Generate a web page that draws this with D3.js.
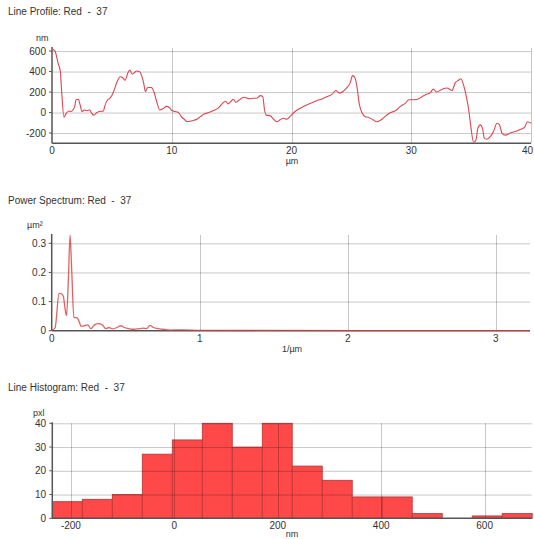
<!DOCTYPE html>
<html>
<head>
<meta charset="utf-8">
<script src="https://cdnjs.cloudflare.com/ajax/libs/d3/7.8.5/d3.min.js"></script>
<style>
  body { margin: 0; background: #fff; }
  svg { display: block; font-family: "Liberation Sans", Arial, sans-serif; }
  text { white-space: pre; }
</style>
</head>
<body>
<svg id="chart" width="534" height="539"></svg>
<script>
// line profile, x in um, y in nm
const profileUm = [0, 0.25, 0.5, 0.7, 0.8, 1.0, 1.15, 1.4, 1.6, 1.75, 1.9, 2.0, 2.2, 2.35, 2.5, 2.7, 2.9, 3.15, 3.3, 3.5, 3.7, 3.95,
  4.3, 4.4, 4.65, 4.85, 5.1, 5.4, 5.7, 5.9, 6.1, 6.35, 6.5, 6.7, 6.85, 7.05, 7.3, 7.5, 7.65, 7.8, 8.0, 8.3, 8.5, 8.7, 9.0,
  9.3, 9.55, 9.8, 10.0, 10.3, 10.6, 10.8, 11.05, 11.3, 11.7, 12.1, 12.4, 12.7, 13.1, 13.5, 13.9, 14.2, 14.5, 14.7, 14.95,
  15.15, 15.35, 15.6, 16.0, 16.3, 16.5, 16.8, 17.1, 17.4, 17.6, 17.75, 17.9, 18.2, 18.5, 18.8, 19.05, 19.35, 19.6, 19.9,
  20.3, 20.6, 21.0, 21.4, 21.8, 22.2, 22.5, 22.95, 23.4, 23.7, 24.0, 24.3, 24.6, 24.9, 25.1, 25.3, 25.5, 25.65, 25.9,
  26.15, 26.4, 26.8, 27.1, 27.5, 27.8, 28.2, 28.7, 29.1, 29.5, 29.8, 30.05, 30.5, 30.9, 31.3, 31.6, 31.85, 32.1, 32.55,
  32.97, 33.4, 33.67, 33.95, 34.14, 34.4, 34.6, 34.8, 34.98, 35.2, 35.4, 35.56, 35.76, 35.95, 36.1, 36.3, 36.6, 36.87,
  37.15, 37.37, 37.57, 37.85, 38.26, 38.68, 39.1, 39.46, 39.7, 40.0];
const profileNm = [620, 600, 485, 400, 220, -45, -15, 15, 10, 25, 60, 125, 130, 75, 10, 25, 20, 25, -5, -25, -5, 10,
  15, 60, 125, 140, 190, 290, 350, 340, 315, 390, 415, 375, 385, 405, 400, 355, 290, 205, 245, 245, 205, 125, 25,
  40, 60, 50, 20, 10, -5, -40, -65, -90, -80, -65, -40, -15, 0, 20, 45, 85, 110, 85, 110,
  130, 100, 120, 150, 140, 135, 140, 140, 165, 155, 25, -25, -30, -65, -90, -70, -55, -65, -35,
  10, 35, 60, 80, 100, 120, 130, 155, 180, 215, 190, 205, 240, 290, 360, 340, 225, 90, -5,
  -40, -45, -70, -90, -70, -40, -5, 20, 60, 90, 125, 125, 130, 155, 180, 195, 230, 200, 225,
  240, 215, 290, 315, 330, 255, 155, 25, -140, -290, -270, -155, -120, -155, -250, -260, -235, -185,
  -105, -120, -200, -220, -200, -185, -165, -145, -90, -105];

// power spectrum, x in 1/um, y in um^2
const spectrumFreq = [0, 0.023, 0.05, 0.068, 0.079, 0.09, 0.1, 0.113, 0.124, 0.135, 0.15, 0.17, 0.18, 0.2, 0.22, 0.243,
  0.265, 0.29, 0.315, 0.342, 0.365, 0.387, 0.41, 0.44, 0.468, 0.49, 0.518, 0.545, 0.574, 0.597, 0.62, 0.64, 0.664,
  0.687, 0.72, 0.755, 0.8, 0.88, 1.0, 3.232];
const spectrumPow = [0, 0.01, 0.128, 0.126, 0.117, 0.077, 0.052, 0.18, 0.328, 0.21, 0.045, 0.045, 0.038, 0.015, 0.017, 0.02,
  0.007, 0.02, 0.024, 0.02, 0.007, 0.011, 0.006, 0.011, 0.017, 0.011, 0.007, 0.005, 0.006, 0.007, 0.009, 0.007, 0.018,
  0.011, 0.007, 0.005, 0.002, 0.003, 0.001, 0];

// line histogram, bins in nm, counts in pxl
const histEdges = [-236, -178, -120, -62, -4, 54, 112, 170, 228, 286, 344, 402, 460, 518, 576, 634, 692];
const histCounts = [7, 8, 10, 27, 33, 40, 30, 40, 22, 16, 9, 9, 2, 0, 1, 2];

const profileXTicks = [0, 10, 20, 30, 40], profileYTicks = [-200, 0, 200, 400, 600];
const spectrumXTicks = [0, 1, 2, 3], spectrumYTicks = [0, 0.1, 0.2, 0.3];
const histXTicks = [-200, 0, 200, 400, 600], histYTicks = [0, 10, 20, 30, 40];

const svg = d3.select('#chart');

function panel(o) {
  let x = d3.scaleLinear().domain(o.xDomain).range([o.left, o.right]),
      y = d3.scaleLinear().domain(o.yDomain).range([o.bottom, o.top]),
      g = svg.append('g');

  g.append('text').attr('x', 8).attr('y', o.titleY)
    .attr('font-size', 10).attr('fill', '#333').text(o.title);

  let marks = g.append('g');
  o.draw(marks, x, y);

  // grid
  g.append('g').selectAll('line.h').data(o.yTicks.filter(d => d !== o.yDomain[0]))
    .enter().append('line')
    .attr('x1', o.left).attr('x2', o.right)
    .attr('y1', d => y(d) + 0.5).attr('y2', d => y(d) + 0.5)
    .attr('stroke', '#000').attr('stroke-opacity', 0.22);
  g.append('g').selectAll('line.v').data(o.xTicks.filter(d => x(d) > o.left + 2))
    .enter().append('line')
    .attr('x1', d => Math.round(x(d)) + 0.5).attr('x2', d => Math.round(x(d)) + 0.5)
    .attr('y1', o.top).attr('y2', o.bottom)
    .attr('stroke', '#000').attr('stroke-opacity', 0.22);

  // axes
  g.append('line').attr('x1', o.left).attr('x2', o.left).attr('y1', o.top - 1).attr('y2', o.bottom)
    .attr('stroke', '#555').attr('stroke-width', 1.5);
  g.append('line').attr('x1', o.left).attr('x2', o.right).attr('y1', o.bottom).attr('y2', o.bottom)
    .attr('stroke', '#555').attr('stroke-width', 1.5);
  g.append('g').selectAll('line').data(o.yTicks).enter().append('line')
    .attr('x1', o.left - 3).attr('x2', o.left).attr('y1', d => y(d)).attr('y2', d => y(d))
    .attr('stroke', '#555');

  if (o.over) o.over(g, x, y);

  g.append('g').selectAll('text').data(o.yTicks).enter().append('text')
    .attr('x', 46).attr('y', d => y(d)).attr('dy', '0.35em')
    .attr('text-anchor', 'end').attr('font-size', 10).attr('fill', '#333')
    .text(d => o.yFormat ? o.yFormat(d) : d);
  g.append('g').selectAll('text').data(o.xTicks).enter().append('text')
    .attr('x', d => Math.min(x(d), 527)).attr('y', o.bottom + 11)
    .attr('text-anchor', d => x(d) > 527 ? 'end' : 'middle')
    .attr('dx', d => x(d) > 527 ? 6 : 0)
    .attr('font-size', 10).attr('fill', '#333')
    .text(d => d);

  g.append('text').attr('x', o.yUnitX).attr('y', o.top - 7)
    .attr('font-size', 9).attr('fill', '#333').text(o.yUnit);
  g.append('text').attr('x', 292).attr('y', Math.min(o.bottom + 21, 537))
    .attr('text-anchor', 'middle').attr('font-size', 9).attr('fill', '#333').text(o.xUnit);
}

panel({
  title: 'Line Profile: Red  -  37', titleY: 15,
  left: 52, right: 531, top: 48, bottom: 143.3,
  xDomain: [0, 40], yDomain: [-300, 630],
  xTicks: profileXTicks, yTicks: profileYTicks,
  yUnit: 'nm', yUnitX: 36, xUnit: 'µm',
  draw: () => {},
  over: (g, x, y) => {
    g.append('path')
      .datum(d3.zip(profileUm, profileNm))
      .attr('fill', 'none').attr('stroke', '#dc4652').attr('stroke-width', 1.1)
      .attr('d', d3.line().x(d => x(d[0])).y(d => y(d[1])).curve(d3.curveMonotoneX));
  }
});

panel({
  title: 'Power Spectrum: Red  -  37', titleY: 204,
  left: 51.7, right: 530, top: 235, bottom: 330.7,
  xDomain: [0, 3.232], yDomain: [0, 0.3285],
  xTicks: spectrumXTicks, yTicks: spectrumYTicks,
  yFormat: d => d === 0 ? '0' : d3.format('.1f')(d),
  yUnit: 'µm²', yUnitX: 27, xUnit: '1/µm',
  draw: () => {},
  over: (g, x, y) => {
    g.append('path')
      .datum(d3.zip(spectrumFreq, spectrumPow))
      .attr('fill', 'none').attr('stroke', '#d83c3c').attr('stroke-opacity', 0.8).attr('stroke-width', 1.3)
      .attr('d', d3.line().x(d => x(d[0])).y(d => y(d[1])).curve(d3.curveMonotoneX));
  }
});

panel({
  title: 'Line Histogram: Red  -  37', titleY: 391,
  left: 52.3, right: 531.7, top: 423.3, bottom: 518.3,
  xDomain: [-236, 691], yDomain: [0, 40],
  xTicks: histXTicks, yTicks: histYTicks,
  yUnit: 'pxl', yUnitX: 33, xUnit: 'nm',
  draw: (g, x, y) => {
    g.selectAll('rect').data(histCounts).enter().append('rect')
      .attr('x', (d, i) => x(histEdges[i]))
      .attr('width', (d, i) => x(histEdges[i + 1]) - x(histEdges[i]))
      .attr('y', d => y(d))
      .attr('height', d => y(0) - y(d))
      .attr('fill', '#ff4848').attr('stroke', '#b83434').attr('stroke-width', 0.8);
  }
});
</script>
</body>
</html>
